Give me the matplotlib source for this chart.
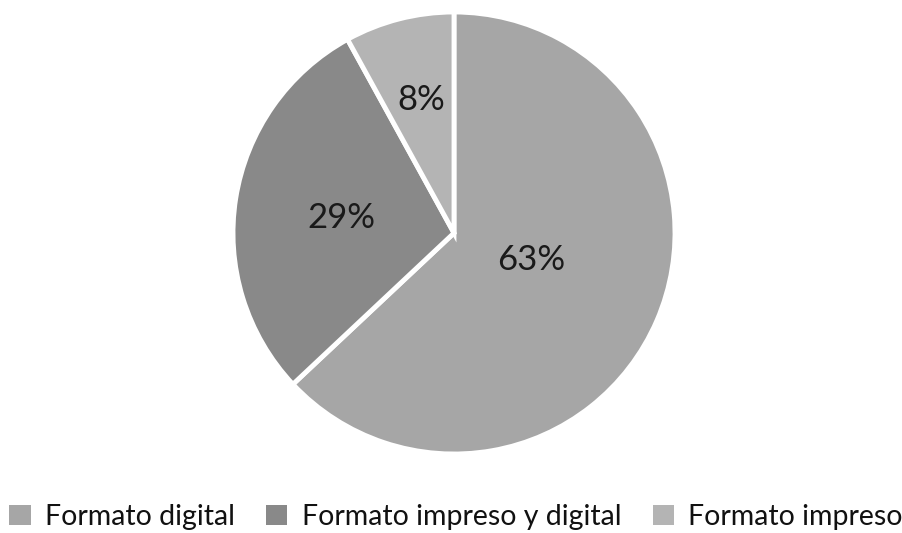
import numpy as np
import matplotlib.pyplot as plt
from matplotlib.patches import Patch

categories = ["Formato digital", "Formato impreso y digital", "Formato impreso"]
shares = [63, 29, 8]
colors = ["#a6a6a6", "#898989", "#b4b4b4"]
# label offsets (fraction of radius) as placed in the original
label_pos = [(0.35, -0.12), (-0.51, 0.07), (-0.15, 0.60)]

plt.rcParams['font.family'] = ['Lato', 'DejaVu Sans']

W, H = 903, 533
fig = plt.figure(figsize=(W / 100, H / 100), dpi=100)
cx, cy, r = 454, 233, 221
ax = fig.add_axes([(cx - r) / W, (H - cy - r) / H, 2 * r / W, 2 * r / H])

wedges, _ = ax.pie(shares, colors=colors, startangle=90, counterclock=False,
                   radius=1, wedgeprops=dict(edgecolor='white', linewidth=3.5))
for (x, y), v in zip(label_pos, shares):
    ax.text(x, y, f"{v}%", ha='center', va='center', fontsize=25, color='#1a1a1a')
ax.set_xlim(-1, 1)
ax.set_ylim(-1, 1)
ax.set_aspect('equal')
ax.axis('off')

handles = [Patch(facecolor=c, edgecolor='none') for c in colors]
fig.legend(handles, categories, loc='center', bbox_to_anchor=(456 / W, 1 - 517 / H),
           ncol=3, frameon=False, fontsize=20.5, handlelength=0.75, handleheight=0.75,
           handletextpad=0.5, columnspacing=1.1, labelcolor='#111111')

fig.savefig("out.png", dpi=100, facecolor='white')
